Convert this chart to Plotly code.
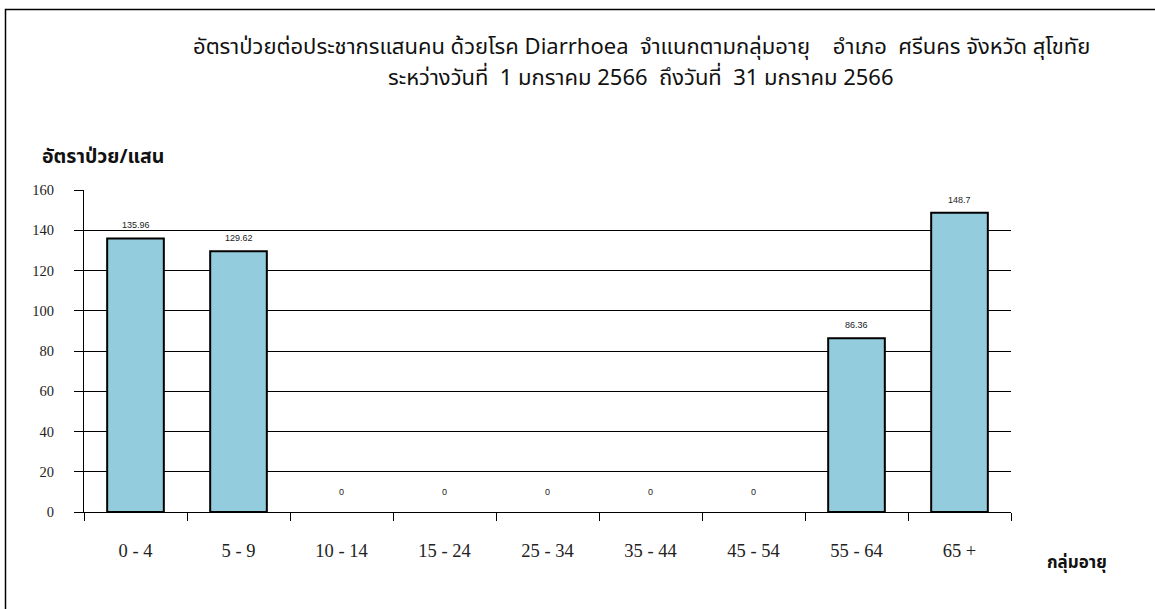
import plotly.graph_objects as go

age_groups = ["0 - 4", "5 - 9", "10 - 14", "15 - 24", "25 - 34", "35 - 44", "45 - 54", "55 - 64", "65 +"]
rates = [135.96, 129.62, 0, 0, 0, 0, 0, 86.36, 148.7]
rate_labels = ["135.96", "129.62", "0", "0", "0", "0", "0", "86.36", "148.7"]
y_ticks = [0, 20, 40, 60, 80, 100, 120, 140, 160]

NB = "\u00a0"
title_line1 = ("อัตราป่วยต่อประชากรแสนคน ด้วยโรค Diarrhoea" + NB * 2 + "จำแนกตามกลุ่มอายุ" + NB * 4 +
               "อำเภอ" + NB * 2 + "ศรีนคร จังหวัด สุโขทัย")
title_line2 = ("ระหว่างวันที่" + NB * 2 + "1 มกราคม 2566" + NB * 2 + "ถึงวันที่" + NB * 2 + "31 มกราคม 2566")
y_title = "อัตราป่วย/แสน"
x_title = "กลุ่มอายุ"

thai_font = "Tahoma, 'Noto Sans Thai', 'Noto Sans', sans-serif"
serif_font = "'Liberation Serif', 'Times New Roman', serif"

W, H = 1155, 609
PL, PR, PT, PB = 84, 1011, 190, 512
PW, PH = PR - PL, PB - PT

def px_x(x):
    return (x - PL) / PW

def px_y(y):
    return (PB - y) / PH

fig = go.Figure()
fig.add_trace(go.Bar(
    x=age_groups, y=rates,
    marker=dict(color="#93CDDD",
                line=dict(color="black", width=[2 if v > 0 else 0 for v in rates])),
    hoverinfo="x+y",
))

for cat, v, lab in zip(age_groups, rates, rate_labels):
    fig.add_annotation(x=cat, y=v, xref="x", yref="y", text=lab, showarrow=False,
                       yshift=13 if v > 0 else 20,
                       font=dict(family="'Liberation Sans', Arial, sans-serif", size=9, color="#222"))

fig.update_layout(
    width=W, height=H,
    margin=dict(l=PL, r=W - PR, t=PT, b=H - PB),
    paper_bgcolor="white", plot_bgcolor="white",
    bargap=0.45,
    showlegend=False,
    xaxis=dict(
        type="category", tickson="boundaries", ticks="outside", ticklen=8, tickwidth=1,
        tickcolor="black", showline=True, linecolor="black", linewidth=1,
        showgrid=False, tickfont=dict(family=serif_font, size=18.5, color="#222"),
        ticklabelstandoff=22,
    ),
    yaxis=dict(
        range=[0, 160], tickvals=y_ticks, ticks="outside", ticklen=9, tickcolor="black",
        showgrid=True, gridcolor="black", gridwidth=1, showline=True, linecolor="black",
        zeroline=False, tickfont=dict(family=serif_font, size=14.5, color="#222"),
        ticklabelstandoff=17,
    ),
)

fig.add_annotation(xref="paper", yref="paper", x=px_x(641), y=px_y(47), xanchor="center", yanchor="middle",
                   showarrow=False, text=title_line1,
                   font=dict(family=thai_font, size=22, color="#111"))
fig.add_annotation(xref="paper", yref="paper", x=px_x(641), y=px_y(79), xanchor="center", yanchor="middle",
                   showarrow=False, text=title_line2,
                   font=dict(family=thai_font, size=22, color="#111"))
fig.add_annotation(xref="paper", yref="paper", x=px_x(40), y=px_y(157), xanchor="left", yanchor="middle",
                   showarrow=False, text="<b>" + y_title + "</b>",
                   font=dict(family=thai_font, size=19.5, color="#111"))
fig.add_annotation(xref="paper", yref="paper", x=px_x(1045), y=px_y(563), xanchor="left", yanchor="middle",
                   showarrow=False, text="<b>" + x_title + "</b>",
                   font=dict(family=thai_font, size=17, color="#111"))

fig.add_shape(type="rect", xref="paper", yref="paper",
              x0=px_x(5.5), x1=px_x(1300),
              y0=px_y(700), y1=px_y(9.5),
              line=dict(color="black", width=1.5), fillcolor="rgba(0,0,0,0)", layer="below")

fig.write_html("out.html", config={"displayModeBar": False},
               post_script="document.body.style.margin='0';document.body.style.overflow='hidden';")
